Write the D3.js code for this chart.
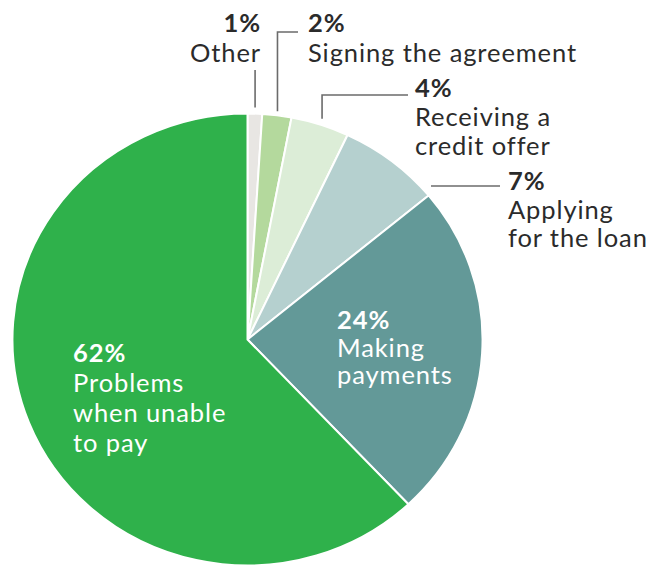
<!DOCTYPE html>
<html>
<head>
<meta charset="utf-8">
<script src="https://cdn.jsdelivr.net/npm/d3@7/dist/d3.min.js"></script>
<style>
  html, body { margin: 0; padding: 0; background: #ffffff; }
  svg { display: block; }
  text { font-family: Lato, "Open Sans", sans-serif; }
</style>
</head>
<body>
<svg id="chart" width="650" height="567"></svg>
<script>
// Share of complaints by stage of the loan
const categories = ["Other", "Signing the agreement", "Receiving a credit offer",
                    "Applying for the loan", "Making payments", "Problems when unable to pay"];
const values = [1, 2, 4, 7, 24, 62];
const labelLines = [["Other"], ["Signing the agreement"], ["Receiving a", "credit offer"],
                    ["Applying", "for the loan"], ["Making", "payments"],
                    ["Problems", "when unable", "to pay"]];
const colors = ["#e8e6e3", "#b4d99d", "#dcedd7", "#b5d0cf", "#639998", "#2fb14b"];

const width = 650, height = 567;
const cx = 247.5, cy = 339.5, r = 226, sx = 1.04;   // pie is slightly wider than tall
const fontSize = 25.5, tracking = 0.9;

const svg = d3.select("#chart");

const pie = d3.pie().sort(null).value(d => d).startAngle(0).endAngle(2 * Math.PI);
const arcs = pie(values);
const arc = d3.arc().innerRadius(0).outerRadius(r);

const g = svg.append("g").attr("transform", `translate(${cx},${cy}) scale(${sx},1)`);
g.selectAll("path")
  .data(arcs)
  .join("path")
  .attr("d", arc)
  .attr("fill", (d, i) => colors[i])
  .attr("stroke", "#ffffff")
  .attr("stroke-width", 2)
  .attr("stroke-linejoin", "round")
  .attr("vector-effect", "non-scaling-stroke");

// point on the pie rim at a fraction of the slice's angular span
function rim(i, frac, extra) {
  const a = arcs[i].startAngle + (arcs[i].endAngle - arcs[i].startAngle) * frac;
  const rr = r + (extra || 0);
  return [cx + sx * rr * Math.sin(a), cy - rr * Math.cos(a)];
}

// label placement: index, x, first baseline, line height, anchor, colour
const layout = [
  { i: 0, x: 261, y: 32, lh: 30, anchor: "end", color: "#2b2b2b" },
  { i: 1, x: 308, y: 32, lh: 30, anchor: "start", color: "#2b2b2b" },
  { i: 2, x: 415, y: 97, lh: 29, anchor: "start", color: "#2b2b2b" },
  { i: 3, x: 508, y: 190, lh: 28.5, anchor: "start", color: "#2b2b2b" },
  { i: 4, x: 337, y: 329, lh: 27.5, anchor: "start", color: "#ffffff" },
  { i: 5, x: 73, y: 362, lh: 30, anchor: "start", color: "#ffffff" }
];

// leader lines from the small outer slices to their labels
const leaders = [];
{
  const p0 = rim(0, 0.5, 6);
  leaders.push([[p0[0], p0[1]], [p0[0], 70]]);
  const p1 = rim(1, 0.5, 4);
  leaders.push([[p1[0], p1[1]], [p1[0], 32], [298, 32]]);
  const p2 = rim(2, 0.5, 6);
  leaders.push([[p2[0], p2[1]], [p2[0], 95], [408, 95]]);
  // horizontal leader for "Applying", starting just off the rim
  const yA = 186;
  const ang = Math.acos((cy - yA) / r);
  const xA = cx + sx * r * Math.sin(ang) + 11;
  leaders.push([[xA, yA], [500, yA]]);
}
svg.append("g")
  .selectAll("path")
  .data(leaders)
  .join("path")
  .attr("d", d3.line())
  .attr("fill", "none")
  .attr("stroke", "#6b6b6b")
  .attr("stroke-width", 1.6);

const labels = svg.append("g")
  .selectAll("text")
  .data(layout)
  .join("text")
  .attr("text-anchor", d => d.anchor)
  .attr("fill", d => d.color)
  .attr("font-size", fontSize)
  .attr("letter-spacing", tracking);

labels.append("tspan")
  .attr("x", d => d.x)
  .attr("y", d => d.y)
  .attr("font-weight", 700)
  .text(d => values[d.i] + "%");

labels.each(function(d) {
  const t = d3.select(this);
  labelLines[d.i].forEach((line, k) => {
    t.append("tspan")
      .attr("x", d.x)
      .attr("y", d.y + d.lh * (k + 1))
      .attr("font-weight", 400)
      .text(line);
  });
});
</script>
</body>
</html>
